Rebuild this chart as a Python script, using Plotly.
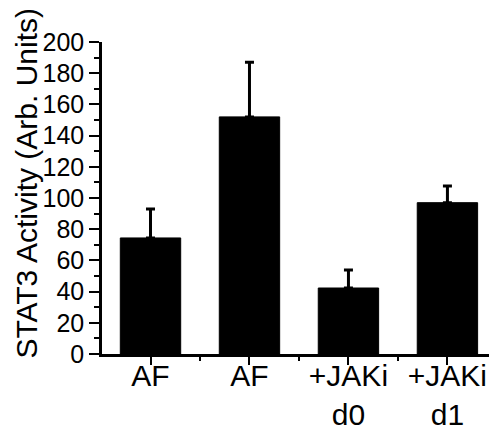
import plotly.graph_objects as go

categories = ["AF", "AF", "+JAKi<br>d0", "+JAKi<br>d1"]
values = [74.4, 152, 42.3, 97]
errors = [18.6, 35, 11.5, 10.7]
y_ticks = [0, 20, 40, 60, 80, 100, 120, 140, 160, 180, 200]

positions = list(range(1, len(categories) + 1))
FONT = "Liberation Sans, Arial, sans-serif"

fig = go.Figure()
fig.add_trace(go.Bar(
    x=positions, y=values, width=0.61,
    marker=dict(color="black", line=dict(color="black", width=1)),
    error_y=dict(type="data", array=errors, symmetric=False,
                 arrayminus=[0] * len(errors),
                 color="black", thickness=3, width=4.5),
))

fig.update_layout(
    width=489, height=432,
    margin=dict(l=102, r=0, t=42, b=78, autoexpand=False),
    plot_bgcolor="white", paper_bgcolor="white",
    showlegend=False,
    font=dict(family=FONT, color="black"),
    annotations=[dict(
        text="STAT3 Activity (Arb. Units)", textangle=-90,
        xref="paper", yref="paper", x=-0.2, y=0.5, xanchor="center", yanchor="middle",
        showarrow=False, font=dict(size=30, family=FONT, color="black"),
        yshift=15, xshift=1,
    )],
)
fig.update_xaxes(
    range=[0.51, 4.42], tickvals=positions, ticktext=categories,
    automargin=False,
    showline=True, linecolor="black", linewidth=2.5,
    ticks="outside", ticklen=8, tickwidth=2, tickcolor="black",
    showgrid=False, zeroline=False,
    tickfont=dict(size=30, family=FONT, color="black"),
    ticklabelstandoff=-15,
    minor=dict(tick0=0.5, dtick=1, ticks="outside", ticklen=4, tickwidth=2,
               tickcolor="black", showgrid=False),
)
fig.update_yaxes(
    range=[0, 200], tickvals=y_ticks, ticktext=[str(v) for v in y_ticks],
    automargin=False,
    showline=True, linecolor="black", linewidth=2.5,
    ticks="outside", ticklen=10, tickwidth=2, tickcolor="black",
    showgrid=False, zeroline=False,
    tickfont=dict(size=25, family=FONT, color="black"),
    minor=dict(tick0=0, dtick=10, ticks="outside", ticklen=5, tickwidth=2,
               tickcolor="black", showgrid=False),
)

fig.write_html("out.html", config={"displayModeBar": False},
               post_script="document.body.style.margin='0';document.body.style.padding='0';")
